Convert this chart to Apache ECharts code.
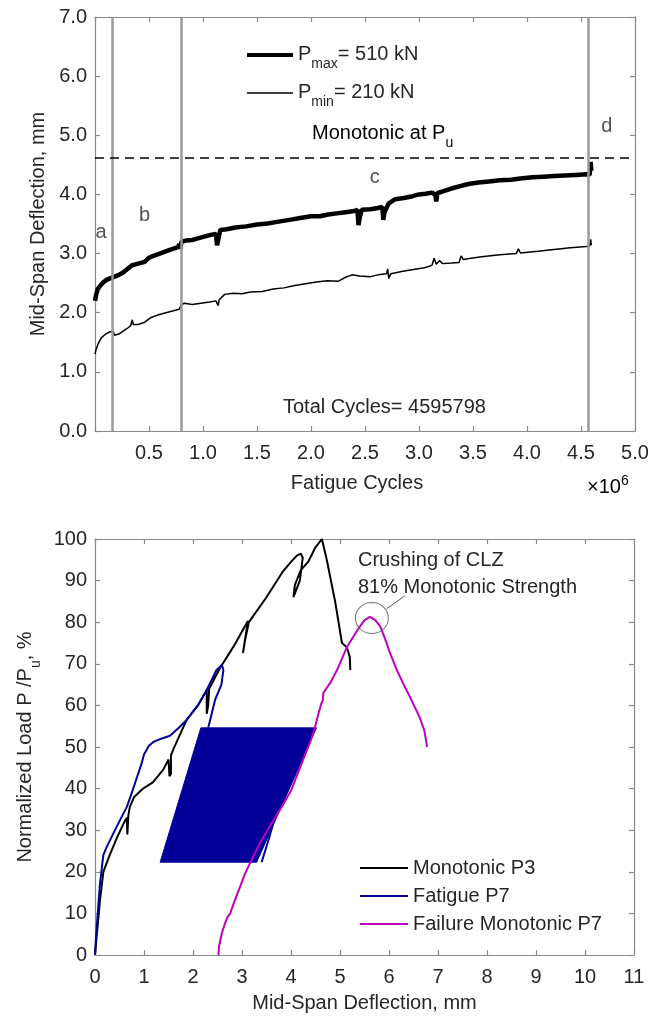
<!DOCTYPE html>
<html>
<head>
<meta charset="utf-8">
<script src="https://cdn.jsdelivr.net/npm/echarts@6/dist/echarts.min.js"></script>
<style>
  html, body { margin: 0; padding: 0; background: #fff; }
  #chart { width: 652px; height: 1023px; }
</style>
</head>
<body>
<div id="chart"></div>
<script>
// ---- Upper panel: mid-span deflection vs. fatigue cycles (cycles in millions) ----
const pmaxCurve = [
  [0.000,2.20],[0.010,2.30],[0.025,2.40],[0.05,2.46],[0.08,2.52],[0.11,2.56],[0.14,2.58],[0.17,2.60],
  [0.22,2.64],[0.26,2.68],[0.30,2.74],[0.34,2.80],[0.40,2.83],[0.46,2.86],[0.50,2.93],[0.54,2.96],
  [0.60,3.00],[0.66,3.04],[0.72,3.08],[0.77,3.11],[0.78,3.16],[0.79,3.08],[0.80,3.20],[0.84,3.22],
  [0.90,3.23],[0.96,3.26],[1.02,3.29],[1.08,3.32],[1.12,3.33],[1.13,3.14],[1.14,3.22],[1.16,3.40],
  [1.22,3.41],[1.30,3.44],[1.40,3.46],[1.50,3.49],[1.60,3.51],[1.70,3.54],[1.80,3.57],[1.90,3.60],
  [2.00,3.63],[2.08,3.63],[2.16,3.66],[2.24,3.68],[2.32,3.70],[2.40,3.72],[2.43,3.74],[2.44,3.48],
  [2.45,3.60],[2.47,3.74],[2.55,3.75],[2.62,3.77],[2.66,3.79],[2.67,3.57],[2.68,3.70],[2.72,3.85],
  [2.78,3.92],[2.86,3.94],[2.94,3.97],[3.00,4.00],[3.06,4.01],[3.12,4.03],[3.15,4.00],[3.16,3.88],
  [3.17,4.02],[3.22,4.05],[3.30,4.10],[3.40,4.15],[3.47,4.18],[3.55,4.20],[3.65,4.22],[3.75,4.24],
  [3.85,4.25],[3.94,4.27],[4.05,4.29],[4.15,4.30],[4.25,4.31],[4.35,4.32],[4.45,4.33],[4.55,4.34],
  [4.58,4.33],[4.59,4.55],[4.595,4.40]
];
const pminCurve = [
  [0,1.30],[0.01,1.38],[0.03,1.48],[0.06,1.58],[0.10,1.64],[0.14,1.68],[0.17,1.68],[0.18,1.62],
  [0.22,1.64],[0.27,1.70],[0.31,1.75],[0.33,1.78],[0.345,1.88],[0.355,1.80],[0.40,1.80],[0.46,1.84],
  [0.52,1.92],[0.58,1.96],[0.64,1.99],[0.70,2.02],[0.78,2.06],[0.79,2.10],[0.80,2.14],[0.83,2.16],
  [0.90,2.14],[0.98,2.16],[1.06,2.18],[1.12,2.20],[1.14,2.12],[1.15,2.22],[1.20,2.31],[1.28,2.33],
  [1.36,2.32],[1.44,2.35],[1.55,2.36],[1.65,2.40],[1.75,2.42],[1.85,2.46],[1.95,2.49],[2.05,2.52],
  [2.15,2.54],[2.25,2.53],[2.32,2.60],[2.38,2.64],[2.45,2.62],[2.55,2.61],[2.62,2.64],[2.70,2.66],
  [2.71,2.74],[2.72,2.58],[2.74,2.66],[2.85,2.70],[2.95,2.73],[3.05,2.76],[3.12,2.80],[3.14,2.92],
  [3.16,2.82],[3.19,2.88],[3.22,2.83],[3.30,2.84],[3.37,2.85],[3.39,2.96],[3.41,2.90],[3.48,2.92],
  [3.60,2.95],[3.75,2.98],[3.90,3.00],[3.92,3.08],[3.94,3.01],[4.10,3.04],[4.25,3.07],[4.40,3.10],
  [4.55,3.12],[4.58,3.13],[4.59,3.24],[4.595,3.14]
];
const phaseBoundaries = [0.164, 0.803, 4.57];
const monotonicDeflection = 4.62;
const phaseLabels = [
  { name: 'a', value: [0.056, 3.35] },
  { name: 'b', value: [0.46, 3.65] },
  { name: 'c', value: [2.59, 4.28] },
  { name: 'd', value: [4.74, 5.15] }
];
const cycleTicks = { min: 0, max: 5, step: 0.5 };
const deflTicks = { min: 0, max: 7, step: 1 };

// ---- Lower panel: normalized load vs. mid-span deflection ----
const monotonicP3 = [
  [0,0],[0.03,4],[0.07,9],[0.10,13],[0.17,20],[0.30,24],[0.44,28],[0.60,32],[0.65,33],[0.66,29],
  [0.67,31],[0.68,33.5],[0.71,35.6],[0.80,38],[0.98,40],[1.18,41.5],[1.39,44.5],[1.50,47],[1.52,43],
  [1.55,43.5],[1.55,48],[1.60,49.5],[1.87,56.5],[2.10,60],[2.28,63.7],[2.28,58],[2.31,60],[2.33,64],
  [2.55,69],[2.82,74],[3.12,80.3],[3.02,72.6],[3.06,75.5],[3.14,80],[3.50,86],[3.84,92.3],[4.00,94.5],
  [4.12,96],[4.20,96.5],[4.24,95.5],[4.18,90],[4.05,86],[4.08,89],[4.20,92.5],[4.35,94.5],[4.50,98],
  [4.63,100],[4.73,95],[4.90,85],[5.04,75],[5.14,74],[5.20,71.6],[5.21,68.5]
];
const fatigueP7 = [
  [0,0],[0.03,6],[0.10,17],[0.17,24],[0.24,26],[0.44,30.8],[0.65,35.6],[0.78,40],[0.85,42.5],
  [0.95,46],[1.00,48.2],[1.10,50.3],[1.19,51.2],[1.35,52],[1.53,52.7],[1.70,54.5],[1.87,56.5],
  [2.10,60],[2.28,63.7],[2.48,68.5],[2.59,69.7],[2.62,68.5],[2.58,65],[2.45,61.3],[2.31,54.6]
];
const fatigueP7Reload = [[3.40,22.3],[3.55,28],[3.72,35]];
const fatigueCycleBand = [[1.33,22.3],[2.16,54.6],[4.52,54.6],[3.30,22.3]];
const failureMonotonicP7 = [
  [2.52,0],[2.53,2],[2.59,5.3],[2.65,7.5],[2.70,9],[2.76,10],[2.85,13],[2.96,16.4],[3.06,19.5],
  [3.16,22],[3.37,27],[3.57,31],[3.78,35],[4.00,39.5],[4.25,47],[4.40,51.5],[4.49,54.8],[4.56,58],
  [4.62,60.5],[4.65,61.3],[4.66,63],[4.80,65.4],[4.94,68.5],[5.14,74],[5.35,78],[5.50,80.5],
  [5.61,81.3],[5.72,80.5],[5.82,79],[5.92,76],[6.02,72.6],[6.16,68.5],[6.30,65],[6.43,62],
  [6.63,57],[6.72,54],[6.78,50]
];
const crushingPoint = [5.65, 81];
const crushingLeader = [[5.95, 83.2], [6.32, 86.3]];
const loadTicks = { min: 0, max: 100, step: 10 };
const deflTicksLow = { min: 0, max: 11, step: 1 };

const FONT = "'Liberation Sans', Arial, sans-serif";
const TEXT = '#262626';
const AXIS = '#8a8a8a';
const BLUE = '#000099';
const MAGENTA = '#c000c0';

function axis(kind, grid, ticks, pos, opts) {
  const show = pos === 'bottom' || pos === 'left';
  const a = {
    type: 'value', gridIndex: grid, position: pos,
    min: ticks.min, max: ticks.max, interval: ticks.step,
    axisLine: { show: true, onZero: false, lineStyle: { color: AXIS, width: 1.2 } },
    axisTick: { show: true, inside: true, length: 5, lineStyle: { color: AXIS, width: 1.2 } },
    splitLine: { show: false },
    axisLabel: { show: show, color: TEXT, fontFamily: FONT, fontSize: 20,
                 margin: kind === 'x' ? 12 : 8 }
  };
  return Object.assign(a, opts || {});
}

const chart = echarts.init(document.getElementById('chart'), null, { renderer: 'canvas' });

const subRich = {
  p: { fontFamily: FONT, fontSize: 20, color: TEXT, lineHeight: 22, verticalAlign: 'top' },
  s: { fontFamily: FONT, fontSize: 14, color: TEXT, lineHeight: 16, verticalAlign: 'top', padding: [13, 0, 0, 0] }
};

// one legend block per entry of the upper panel, so each key keeps its own stroke weight
function loadLegend(name, top, thickness, label) {
  return {
    data: [name], orient: 'vertical', left: 247, top: top, padding: 0,
    icon: 'rect', itemWidth: 46, itemHeight: thickness,
    formatter: () => label,
    textStyle: { color: TEXT, fontFamily: FONT, fontSize: 20, rich: subRich },
    selectedMode: false
  };
}

const option = {
  animation: false,
  backgroundColor: '#fff',
  grid: [
    { left: 95, top: 17, width: 540, height: 414 },
    { left: 95, top: 539, width: 539, height: 416 }
  ],
  xAxis: [
    axis('x', 0, cycleTicks, 'bottom', {
      name: 'Fatigue Cycles', nameLocation: 'middle', nameGap: 42,
      nameTextStyle: { color: TEXT, fontFamily: FONT, fontSize: 20, padding: [0, 16, 0, 0] },
      axisLabel: { show: true, color: TEXT, fontFamily: FONT, fontSize: 20, margin: 12,
                   formatter: v => (v === 0 ? '' : v.toFixed(1)) }
    }),
    axis('x', 0, cycleTicks, 'top'),
    axis('x', 1, deflTicksLow, 'bottom', {
      name: 'Mid-Span Deflection, mm', nameLocation: 'middle', nameGap: 38,
      nameTextStyle: { color: TEXT, fontFamily: FONT, fontSize: 20 }
    }),
    axis('x', 1, deflTicksLow, 'top')
  ],
  yAxis: [
    axis('y', 0, deflTicks, 'left', {
      name: 'Mid-Span Deflection, mm', nameLocation: 'middle', nameGap: 47,
      nameTextStyle: { color: TEXT, fontFamily: FONT, fontSize: 20 },
      axisLabel: { show: true, color: TEXT, fontFamily: FONT, fontSize: 20, margin: 8,
                   formatter: v => v.toFixed(1) }
    }),
    axis('y', 0, deflTicks, 'right'),
    axis('y', 1, loadTicks, 'left', {
      name: '{p|Normalized Load P /P}{s|u}{p|, %}', nameLocation: 'middle', nameGap: 56,
      nameTextStyle: { color: TEXT, fontFamily: FONT, fontSize: 20, rich: subRich }
    }),
    axis('y', 1, loadTicks, 'right')
  ],
  legend: [
    loadLegend('Pmax', 44, 4, '{p|P}{s|max}{p|= 510 kN}'),
    loadLegend('Pmin', 82, 1.5, '{p|P}{s|min}{p|= 210 kN}'),
    {
      data: ['Monotonic P3', 'Fatigue P7', 'Failure Monotonic P7'], orient: 'vertical',
      left: 360, top: 856, padding: 0, icon: 'rect', itemWidth: 48, itemHeight: 2, itemGap: 4,
      textStyle: { color: TEXT, fontFamily: FONT, fontSize: 20, lineHeight: 24 },
      selectedMode: false
    }
  ],
  series: [
    {
      name: 'Pmax', type: 'line', xAxisIndex: 0, yAxisIndex: 0, data: pmaxCurve,
      showSymbol: false, symbol: 'none', lineStyle: { color: '#000', width: 4.5 }, itemStyle: { color: '#000' },
      z: 3
    },
    {
      name: 'Pmin', type: 'line', xAxisIndex: 0, yAxisIndex: 0, data: pminCurve,
      showSymbol: false, symbol: 'none', lineStyle: { color: '#000', width: 1.5 }, itemStyle: { color: '#000' },
      z: 3,
      markLine: {
        silent: true, symbol: ['none', 'none'], label: { show: false },
        lineStyle: { color: '#9a9a9a', width: 2.5, type: 'solid' },
        data: phaseBoundaries.map(x => ({ xAxis: x }))
          .concat([{ yAxis: monotonicDeflection, lineStyle: { color: '#000', width: 1.5, type: [9, 6] } }])
      }
    },
    {
      name: 'phases', type: 'scatter', xAxisIndex: 0, yAxisIndex: 0, data: phaseLabels,
      symbolSize: 0, silent: true,
      label: { show: true, position: 'inside', formatter: '{b}', color: TEXT, fontFamily: FONT, fontSize: 20 }
    },
    {
      name: 'cycleBand', type: 'custom', xAxisIndex: 2, yAxisIndex: 2, data: fatigueCycleBand,
      encode: { x: 0, y: 1 }, silent: true, z: 2,
      renderItem: (params, api) => {
        if (params.dataIndex !== 0) return null;
        return {
          type: 'polygon',
          shape: { points: fatigueCycleBand.map(p => api.coord(p)) },
          style: { fill: BLUE, stroke: BLUE, lineWidth: 1 }
        };
      }
    },
    {
      name: 'Monotonic P3', type: 'line', xAxisIndex: 2, yAxisIndex: 2, data: monotonicP3,
      showSymbol: false, symbol: 'none', lineStyle: { color: '#000', width: 2 }, itemStyle: { color: '#000' }, z: 3
    },
    {
      name: 'Fatigue P7', type: 'line', xAxisIndex: 2, yAxisIndex: 2, data: fatigueP7,
      showSymbol: false, symbol: 'none', lineStyle: { color: BLUE, width: 2 }, itemStyle: { color: BLUE }, z: 4
    },
    {
      name: 'Fatigue P7', type: 'line', xAxisIndex: 2, yAxisIndex: 2, data: fatigueP7Reload,
      showSymbol: false, symbol: 'none', lineStyle: { color: BLUE, width: 2 }, itemStyle: { color: BLUE }, z: 4
    },
    {
      name: 'Failure Monotonic P7', type: 'line', xAxisIndex: 2, yAxisIndex: 2, data: failureMonotonicP7,
      showSymbol: false, symbol: 'none', lineStyle: { color: MAGENTA, width: 2 }, itemStyle: { color: MAGENTA }, z: 5
    },
    {
      name: 'crushMark', type: 'scatter', xAxisIndex: 2, yAxisIndex: 2, data: [crushingPoint],
      symbol: 'circle', symbolSize: [33, 31], silent: true, z: 6,
      itemStyle: { color: 'rgba(0,0,0,0)', borderColor: '#555', borderWidth: 1 }
    },
    {
      name: 'crushLeader', type: 'line', xAxisIndex: 2, yAxisIndex: 2, data: crushingLeader,
      showSymbol: false, symbol: 'none', silent: true, z: 6, lineStyle: { color: '#555', width: 1 }
    }
  ],
  graphic: [
    { type: 'text', left: 312, top: 123, silent: true,
      style: { text: '{p|Monotonic at P}{s|u}', rich: subRich } },
    { type: 'text', left: 283, top: 397, silent: true,
      style: { text: 'Total Cycles= 4595798', fill: TEXT, font: '20px ' + FONT } },
    { type: 'text', left: 587, top: 471, silent: true,
      style: {
        text: '{a|\u00d710}{e|6}',
        rich: {
          a: { fontFamily: FONT, fontSize: 20, color: TEXT, lineHeight: 20, padding: [6, 0, 0, 0] },
          e: { fontFamily: FONT, fontSize: 14, color: TEXT, lineHeight: 14, verticalAlign: 'top' }
        }
      } },
    { type: 'text', left: 358, top: 547, silent: true,
      style: { text: 'Crushing of CLZ\n81% Monotonic Strength', fill: TEXT, font: '20px ' + FONT, lineHeight: 27 } }
  ]
};

chart.setOption(option);
</script>
</body>
</html>
